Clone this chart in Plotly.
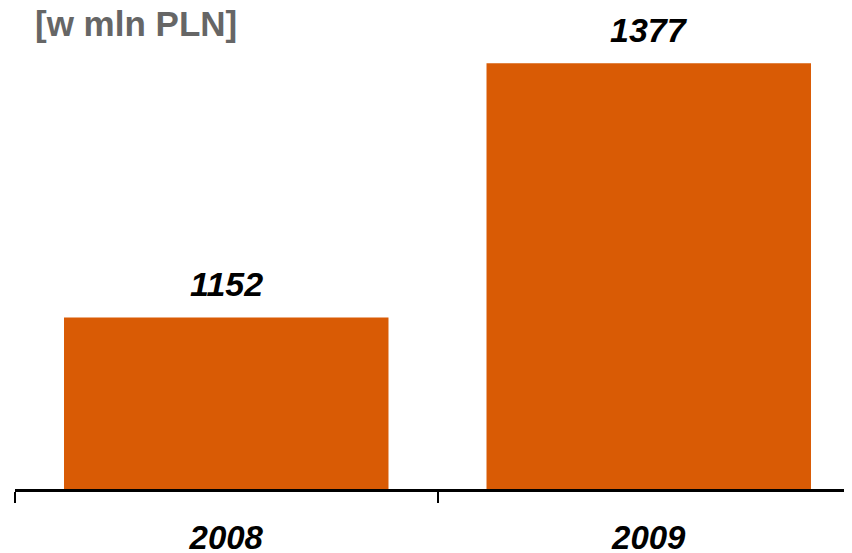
import plotly.graph_objects as go

years = ["2008", "2009"]
values = [1152, 1377]
unit_title = "[w mln PLN]"

BAR = "#D95B05"

fig = go.Figure()
fig.add_trace(go.Bar(
    x=years, y=values, marker=dict(color=BAR, line=dict(width=0)),
    width=0.768, hoverinfo="skip",
))

for i, v in enumerate(values):
    fig.add_annotation(
        x=i, y=v, xref="x", yref="y", text=str(v), showarrow=False, yanchor="bottom", yshift=12,
        font=dict(family="Liberation Sans", size=34, color="#000000", style="italic", weight="bold"),
    )

fig.add_annotation(
    xref="paper", yref="paper", x=(25 - 7) / 845, y=1, xanchor="left", yanchor="top",
    text=unit_title, showarrow=False, yshift=6,
    font=dict(family="Liberation Sans", size=35, color="#666666", weight="bold"),
)

fig.update_layout(
    width=852, height=553,
    margin=dict(l=7, r=0, t=0, b=72, autoexpand=False),
    paper_bgcolor="white", plot_bgcolor="white",
    showlegend=False,
    xaxis=dict(
        type="category", range=[-0.5, 1.5], tickson="boundaries", automargin=False,
        ticks="outside", ticklen=11, tickwidth=2, tickcolor="black",
        showline=True, linecolor="black", linewidth=3, showgrid=False,
        tickfont=dict(family="Liberation Sans", size=33, color="#000000", style="italic", weight="bold"),
        ticklabelstandoff=17,
    ),
    yaxis=dict(range=[1000, 1426], visible=False, showgrid=False, automargin=False),
)

fig.write_html("out.html")
